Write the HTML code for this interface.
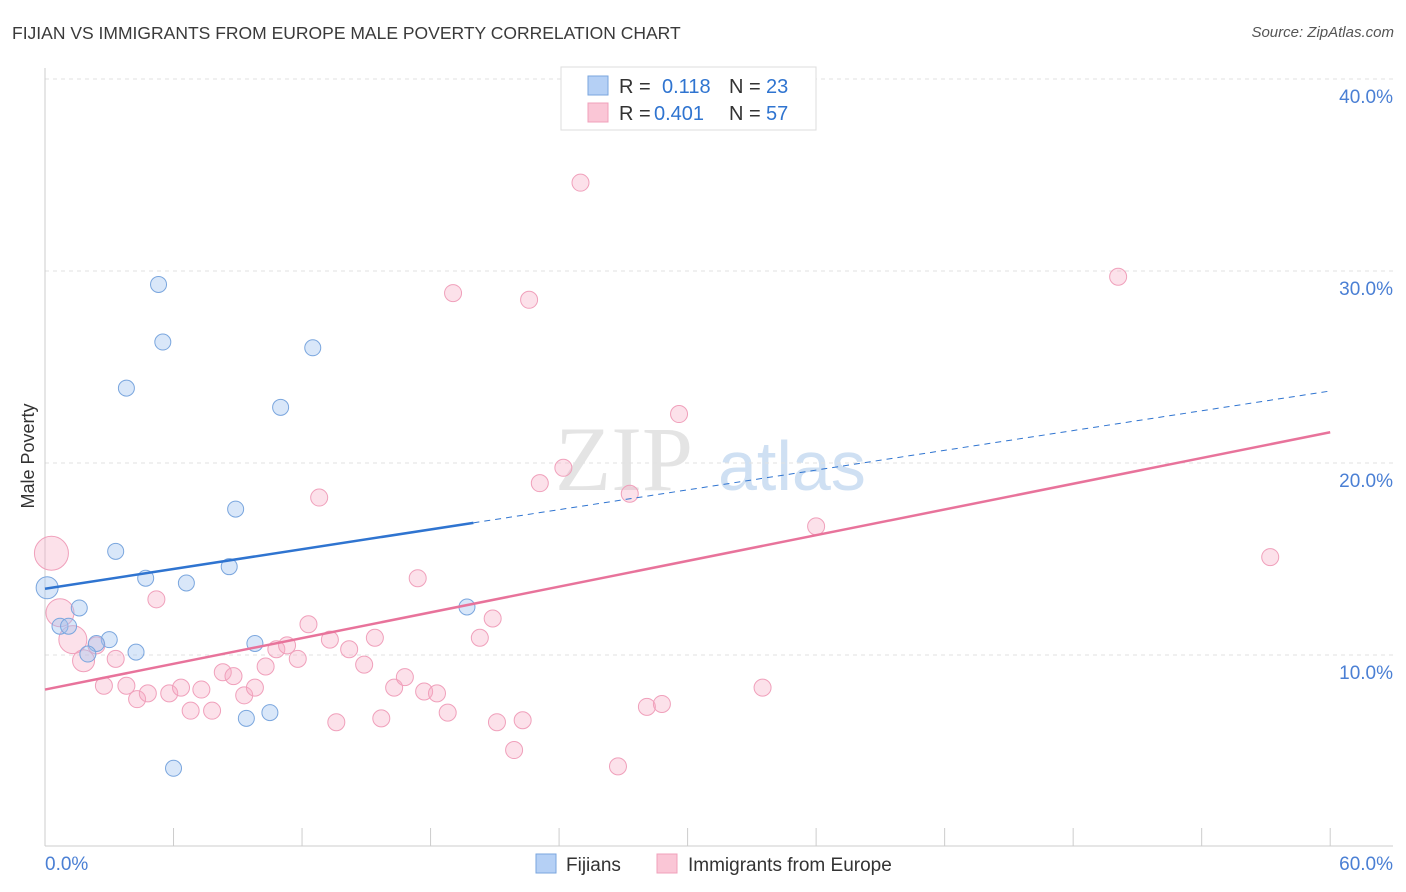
<!DOCTYPE html>
<html><head><meta charset="utf-8"><style>
body{margin:0;background:#fff;font-family:"Liberation Sans",sans-serif;}
#wrap{position:relative;width:1406px;height:892px;overflow:hidden;}
.t{position:absolute;white-space:nowrap;}
</style></head><body>
<div id="wrap">
<div class="t" style="left:12px;top:23px;font-size:17.5px;color:#3a3a3a;">FIJIAN VS IMMIGRANTS FROM EUROPE MALE POVERTY CORRELATION CHART</div>
<div class="t" style="right:12px;top:24px;font-size:15px;color:#555;font-style:italic;">Source: ZipAtlas.com</div>
<svg id="chart" width="1406" height="892" style="position:absolute;left:0;top:0"></svg>
</div>
<script>
const yTicks=[10,20,30,40];
const xTickLabels=["0.0%","60.0%"];
const blueX=[0.1,5.3,5.5,3.8,12.5,11.0,8.9,3.3,4.7,6.6,8.6,1.6,0.7,1.1,3.0,2.4,2.0,4.25,9.8,19.7,9.4,10.5,6.0];
const blueY=[13.5,29.3,26.3,23.9,26.0,22.9,17.6,15.4,14.0,13.75,14.6,12.45,11.5,11.5,10.8,10.6,10.05,10.15,10.6,12.5,6.7,7.0,4.1];
const pinkX=[0.3,0.7,1.3,1.8,2.4,3.3,2.75,3.8,4.3,4.8,5.8,6.35,6.8,7.3,7.8,8.3,8.8,9.3,9.8,10.3,10.8,11.3,11.8,12.3,12.8,13.3,13.6,14.2,14.9,15.4,15.7,16.3,16.8,17.4,17.7,18.3,18.8,19.05,20.3,20.9,21.1,21.9,22.3,22.6,23.1,24.2,25.0,26.75,27.3,28.1,28.8,29.6,33.5,36.0,50.1,57.2,5.2];
const pinkY=[15.3,12.2,10.8,9.7,10.5,9.8,8.4,8.4,7.7,8.0,8.0,8.3,7.1,8.2,7.1,9.1,8.9,7.9,8.3,9.4,10.3,10.5,9.8,11.6,18.2,10.8,6.5,10.3,9.5,10.9,6.7,8.3,8.85,14.0,8.1,8.0,7.0,28.85,10.9,11.9,6.5,5.05,6.6,28.5,18.95,19.75,34.6,4.2,18.4,7.3,7.45,22.55,8.3,16.7,29.7,15.1,12.9];
const blueTrend=[13.45,23.75];
const pinkTrend=[8.2,21.6];
const X=v=>45+v*21.42, Y=v=>847-v*19.2;
const svg=document.getElementById('chart');const NS='http://www.w3.org/2000/svg';
function mk(t,a,p){const e=document.createElementNS(NS,t);for(const k in a)e.setAttribute(k,a[k]);(p||svg).appendChild(e);return e;}
let wm=mk('text',{x:555,y:490,'font-size':92,fill:'#e4e4e4','font-family':'Liberation Serif'});wm.textContent='ZIP';


let wm2=mk('text',{x:718,y:490,'font-size':70,fill:'#cfe0f3','font-family':'Liberation Sans'});wm2.textContent='atlas';


yTicks.forEach(v=>{let g=mk('line',{x1:45,x2:1393,y1:Y(v),y2:Y(v),stroke:'#e2e2e2','stroke-dasharray':'4,4'});


let t=mk('text',{x:1393,y:Y(v)+24,'text-anchor':'end','font-size':19,fill:'#4a7fd4'});t.textContent=v.toFixed(1)+'%';

});
mk('line',{x1:45,x2:45,y1:68,y2:846,stroke:'#ccc'});
mk('line',{x1:45,x2:1393,y1:846,y2:846,stroke:'#ccc'});
for(let i=0;i<=10;i++){let tk=mk('line',{x1:X(i*6),x2:X(i*6),y1:828,y2:846,stroke:'#ccc'});

}
let xl0=mk('text',{x:45,y:870,'font-size':19,fill:'#4a7fd4'});xl0.textContent=xTickLabels[0];


let xl1=mk('text',{x:1393,y:870,'text-anchor':'end','font-size':19,fill:'#4a7fd4'});xl1.textContent=xTickLabels[1];


let yt=mk('text',{x:0,y:0,'font-size':18,fill:'#333',transform:'translate(34,456) rotate(-90)','text-anchor':'middle'});yt.textContent='Male Poverty';


pinkX.forEach((x,i)=>{const r=i==0?17:(i<3?14:(i<4?11:8.5));let c=mk('circle',{cx:X(x),cy:Y(pinkY[i]),r:r,fill:'rgba(246,170,195,0.35)',stroke:'#f0a0bb','stroke-width':1});

});
blueX.forEach((x,i)=>{const r=i==0?11:8;let c=mk('circle',{cx:X(x),cy:Y(blueY[i]),r:r,fill:'rgba(160,195,240,0.4)',stroke:'#7aa6de','stroke-width':1});

});
const bm=blueTrend[0]+(blueTrend[1]-blueTrend[0])*20/60;
let bl=mk('line',{x1:X(0),y1:Y(blueTrend[0]),x2:X(20),y2:Y(bm),stroke:'#2f74d0','stroke-width':2.5});


let bd=mk('line',{x1:X(20),y1:Y(bm),x2:X(60),y2:Y(blueTrend[1]),stroke:'#2f74d0','stroke-width':1,'stroke-dasharray':'6,5'});


let pl=mk('line',{x1:X(0),y1:Y(pinkTrend[0]),x2:X(60),y2:Y(pinkTrend[1]),stroke:'#e8739b','stroke-width':2.5});


let lg=mk('g',{});


mk('rect',{x:561,y:67,width:255,height:63,fill:'#fff',stroke:'#ddd'},lg);
mk('rect',{x:588,y:76,width:20,height:19,fill:'#b5d0f5',stroke:'#7aa6de'},lg);
mk('rect',{x:588,y:103,width:20,height:19,fill:'#fac6d6',stroke:'#f0a0bb'},lg);
function lt(x,y,s,c){let t=mk('text',{x:x,y:y,'font-size':20,fill:c},lg);t.textContent=s;return t;}
lt(619,93,'R = ','#333');lt(662,93,'0.118','#2f74d0');lt(729,93,'N = ','#333');lt(766,93,'23','#2f74d0');
lt(619,120,'R = ','#333');lt(654,120,'0.401','#2f74d0');lt(729,120,'N = ','#333');lt(766,120,'57','#2f74d0');
let bl1=mk('rect',{x:536,y:854,width:20,height:19,fill:'#b5d0f5',stroke:'#7aa6de'});


let bt1=mk('text',{x:566,y:871,'font-size':19,fill:'#333'});bt1.textContent='Fijians';


let bl2=mk('rect',{x:657,y:854,width:20,height:19,fill:'#fac6d6',stroke:'#f0a0bb'});


let bt2=mk('text',{x:688,y:871,'font-size':19,fill:'#333'});bt2.textContent='Immigrants from Europe';


</script>
</body></html>
